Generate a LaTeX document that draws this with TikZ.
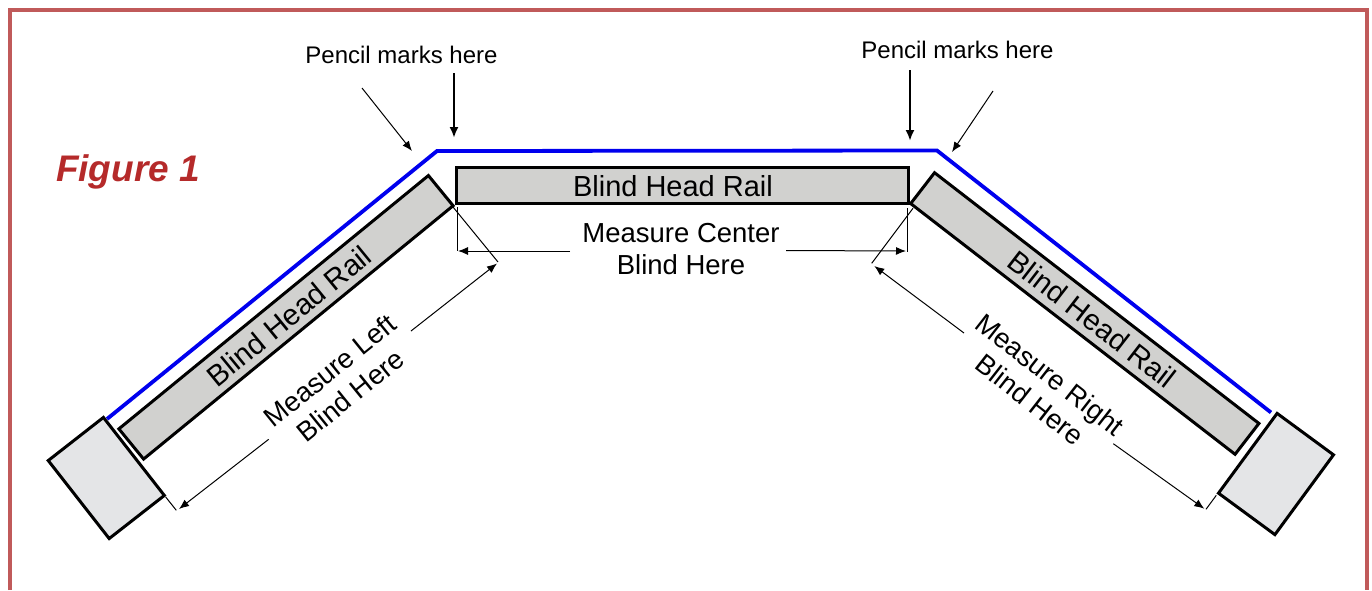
\documentclass[tikz,border=0pt]{standalone}
\usepackage{fontspec}
\setmainfont{Liberation Sans}
\usetikzlibrary{arrows.meta}
\definecolor{framered}{HTML}{C05A5A}
\definecolor{figred}{HTML}{B52A2A}
\definecolor{railgray}{HTML}{D1D1CF}
\definecolor{postgray}{HTML}{E4E5E7}
\definecolor{wallblue}{HTML}{0000EE}
\tikzset{
  railbox/.style={draw=black, fill=railgray, line width=1.5pt, inner sep=0pt,
    minimum height=19.5pt, font=\fontsize{14.5}{16}\selectfont},
  postbox/.style={draw=black, fill=postgray, line width=1.5pt, inner sep=0pt,
    minimum width=35pt, minimum height=49.5pt},
  thinarrow/.style={-{Latex[length=5pt,width=4pt]}, line width=0.5pt},
  thickarrow/.style={-{Latex[length=5.5pt,width=4.5pt]}, line width=1.1pt},
  extline/.style={line width=0.5pt},
  measurelabel/.style={align=center, font=\fontsize{13.75}{16}\selectfont},
  pencillabel/.style={font=\fontsize{12}{14}\selectfont},
}
\begin{document}
\begin{tikzpicture}[x=0.5pt, y=-0.5pt]
    \useasboundingbox (0,0) rectangle (1372,590);
    \fill[white] (0,0) rectangle (1372,590);
    % outer frame, runs off the bottom
    \draw[framered, line width=1.6pt] (10,590) -- (10,10) -- (1367,10) -- (1367,590);
    % wall line
    \coordinate (wallL) at (107,419);
    \coordinate (cornerL) at (437,151);
    \coordinate (cornerR) at (937,150.5);
    \coordinate (wallR) at (1271,412.5);
    \draw[wallblue, line width=1.9pt] (wallL) -- (cornerL) -- (cornerR) -- (wallR);
    % posts
    \node[postbox, rotate=38] (postL) at (106.3,478) {};
    \node[postbox, rotate=-36.3] (postR) at (1276,474) {};
    % head rails
    \node[railbox, minimum width=226pt, minimum height=18pt] (railC) at (682,185.7) {};
    \node[railbox, minimum width=200pt, rotate=39.3] (railL) at (286,317.3) {};
    \node[railbox, minimum width=205pt, rotate=-37.7] (railR) at (1084.8,313.5) {};
    \node[font=\fontsize{14.5}{16}\selectfont] (textC) at (673,186) {Blind Head Rail};
    \node[font=\fontsize{14.7}{16}\selectfont, rotate=39.3] (textL) at (289,316) {Blind Head Rail};
    \node[font=\fontsize{14.7}{16}\selectfont, rotate=-37.7] (textR) at (1092,319) {Blind Head Rail};
    % labels
    \node[font=\bfseries\itshape\fontsize{18.5}{20}\selectfont, text=figred] (figlabel) at (128,172) {Figure 1};
    \node[pencillabel] (pencilL) at (401.5,55) {Pencil marks here};
    \node[pencillabel] (pencilR) at (957.5,50) {Pencil marks here};
    \node[measurelabel] (measureC) at (681,249) {Measure Center\\Blind Here};
    \node[measurelabel, rotate=39] (measureL) at (340,383) {Measure Left\\Blind Here};
    \node[measurelabel, rotate=-38] (measureR) at (1040,387) {Measure Right\\Blind Here};
    % pencil arrows
    \coordinate (p1a) at (362,88);
    \coordinate (p1b) at (412,151);
    \coordinate (p2a) at (454,73);
    \coordinate (p2b) at (454,138);
    \coordinate (p3a) at (910,70);
    \coordinate (p3b) at (910,141);
    \coordinate (p4a) at (993,91);
    \coordinate (p4b) at (952,152);
    \draw[thinarrow] (p1a) -- (p1b);
    \draw[thickarrow] (p2a) -- (p2b);
    \draw[thickarrow] (p3a) -- (p3b);
    \draw[thinarrow] (p4a) -- (p4b);
    % center dimension
    \coordinate (c1a) at (457,207);
    \coordinate (c1b) at (457,251);
    \coordinate (c2a) at (907,208);
    \coordinate (c2b) at (907,252);
    \coordinate (c3a) at (570,251);
    \coordinate (c3b) at (458,251);
    \coordinate (c4a) at (786,250.5);
    \coordinate (c4b) at (906,251);
    \draw[extline] (c1a) -- (c1b);
    \draw[extline] (c2a) -- (c2b);
    \draw[thinarrow] (c3a) -- (c3b);
    \draw[thinarrow] (c4a) -- (c4b);
    % left dimension
    \coordinate (l1a) at (453,207);
    \coordinate (l1b) at (498,262);
    \coordinate (l2a) at (165.7,497);
    \coordinate (l2b) at (176.3,510.3);
    \coordinate (l3a) at (411,331);
    \coordinate (l3b) at (497,263.5);
    \coordinate (l4a) at (268.7,439.3);
    \coordinate (l4b) at (179,509);
    \draw[extline] (l1a) -- (l1b);
    \draw[extline] (l2a) -- (l2b);
    \draw[thinarrow] (l3a) -- (l3b);
    \draw[thinarrow] (l4a) -- (l4b);
    % right dimension
    \coordinate (r1a) at (913,208.3);
    \coordinate (r1b) at (871.7,263.3);
    \coordinate (r2a) at (1216.3,495.3);
    \coordinate (r2b) at (1206,509.3);
    \coordinate (r3a) at (964,333);
    \coordinate (r3b) at (874.3,266);
    \coordinate (r4a) at (1113.3,443.7);
    \coordinate (r4b) at (1204.3,508.7);
    \draw[extline] (r1a) -- (r1b);
    \draw[extline] (r2a) -- (r2b);
    \draw[thinarrow] (r3a) -- (r3b);
    \draw[thinarrow] (r4a) -- (r4b);
\end{tikzpicture}
\end{document}
